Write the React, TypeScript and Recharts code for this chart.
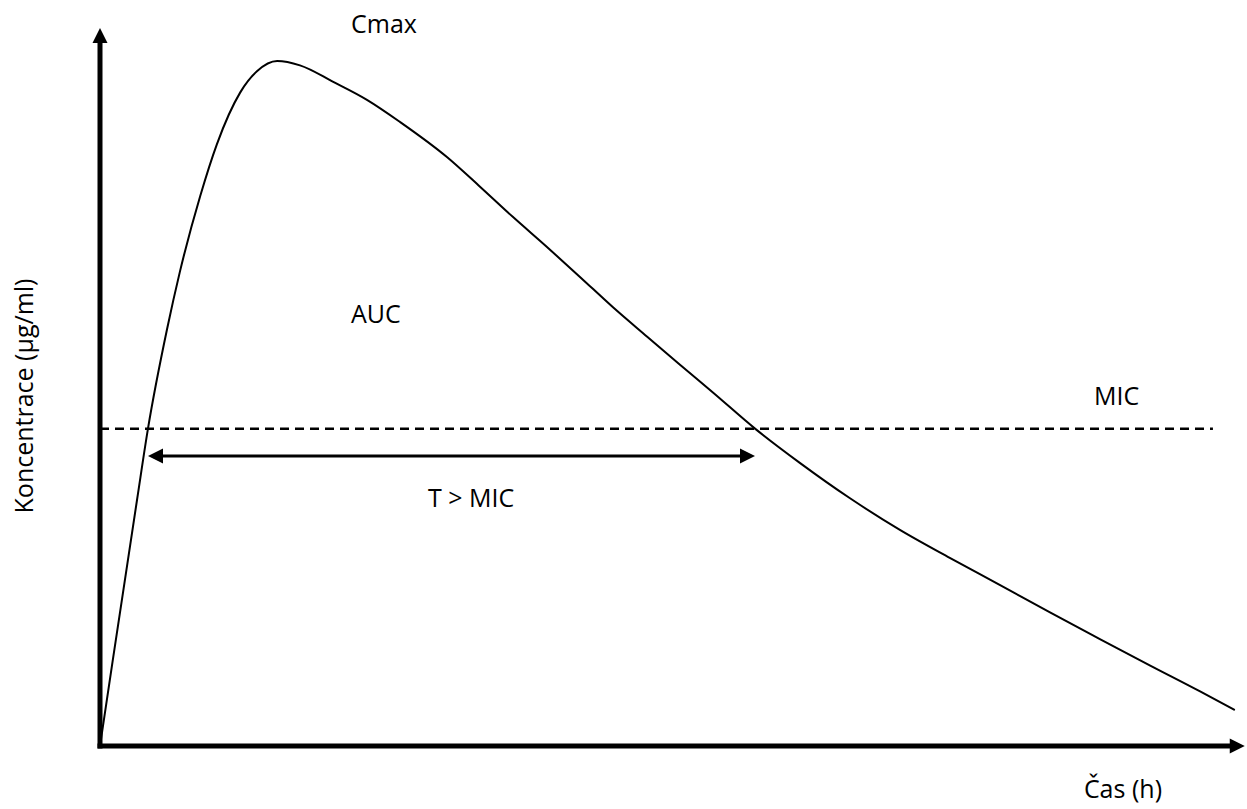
import { LineChart, Line, XAxis, YAxis, ReferenceLine } from 'recharts';

// čas (h) a koncentrace (µg/ml)
const time = [
  0, 0.27, 0.78, 1.01, 1.41, 1.68, 2.11, 2.46, 2.95, 3.31, 3.73, 4.21, 4.91, 5.62, 6.32, 7.31, 8.0,
  8.69, 9.41, 10.11, 10.8, 11.52, 12.21, 12.91, 13.79, 14.74, 15.79, 16.84, 17.89, 18.95, 20.0, 21.05,
  22.11, 23.16, 23.89,
];
const concentration = [
  0, 12.0, 34.3, 44.2, 58.0, 66.0, 76.6, 83.8, 91.0, 94.0, 95.4, 94.8, 92.5, 90.0, 86.9, 82.0, 77.9,
  73.7, 69.5, 65.3, 61.1, 57.0, 53.1, 49.2, 44.2, 39.4, 34.5, 30.1, 26.2, 22.4, 18.6, 14.9, 11.2, 7.6,
  5.0,
];
const MIC = 44.2;
const micEnd = 23.43;
const tAboveMic = [1.01, 13.79];
const tArrowLevel = 40.4;
const axisEnd = { x: 24.1, y: 100 };

const data = time.map((t, i) => ({ t, c: concentration[i] }));

const FONT = '"Open Sans", "Noto Sans", sans-serif';

const arrowShape = (width: number, both: boolean, extendStart = 0) => (props: any) => {
  const { x1, y1, x2, y2 } = props;
  const dx = x2 - x1;
  const dy = y2 - y1;
  const len = Math.sqrt(dx * dx + dy * dy) || 1;
  const ux = dx / len;
  const uy = dy / len;
  const h = 15;
  const w = 7.5;
  const head = (tx: number, ty: number, sx: number, sy: number) => {
    const bx = tx - sx * h;
    const by = ty - sy * h;
    return `${tx},${ty} ${bx - sy * w},${by + sx * w} ${bx + sy * w},${by - sx * w}`;
  };
  const sx0 = both ? x1 + ux * (h - 1) : x1 - ux * extendStart;
  const sy0 = both ? y1 + uy * (h - 1) : y1 - uy * extendStart;
  return (
    <g>
      <line x1={sx0} y1={sy0} x2={x2 - ux * (h - 1)} y2={y2 - uy * (h - 1)} stroke="#000" strokeWidth={width} />
      <polygon points={head(x2, y2, ux, uy)} fill="#000" />
      {both && <polygon points={head(x1, y1, -ux, -uy)} fill="#000" />}
    </g>
  );
};

const App = () => {
  return (
    <div style={{ position: 'absolute', left: 0, top: 0, background: '#fff' }}>
      <LineChart
        width={1247}
        height={809}
        data={data}
        margin={{ top: 28, right: 7, bottom: 63, left: 100 }}
      >
        <XAxis dataKey="t" type="number" domain={[0, 24]} hide />
        <YAxis type="number" domain={[0, 100]} hide />
        <ReferenceLine
          segment={[{ x: 0, y: MIC }, { x: micEnd, y: MIC }]}
          stroke="#000"
          strokeWidth={2.5}
          strokeDasharray="9 6"
          ifOverflow="visible"
        />
        <Line
          type="monotone"
          dataKey="c"
          stroke="#000"
          strokeWidth={2}
          dot={false}
          activeDot={false}
          isAnimationActive={false}
        />
        <ReferenceLine
          segment={[{ x: 0, y: 0 }, { x: 0, y: axisEnd.y }]}
          ifOverflow="visible"
          shape={arrowShape(5, false, 2.5)}
        />
        <ReferenceLine
          segment={[{ x: 0, y: 0 }, { x: axisEnd.x, y: 0 }]}
          ifOverflow="visible"
          shape={arrowShape(5, false, 2.5)}
        />
        <ReferenceLine
          segment={[{ x: tAboveMic[0], y: tArrowLevel }, { x: tAboveMic[1], y: tArrowLevel }]}
          ifOverflow="visible"
          shape={arrowShape(3, true)}
        />
        <text x={351} y={33} fontFamily={FONT} fontSize={25} fill="#000">Cmax</text>
        <text x={351} y={323} fontFamily={FONT} fontSize={25} fill="#000">AUC</text>
        <text x={428} y={507} fontFamily={FONT} fontSize={25} fill="#000">T &gt; MIC</text>
        <text x={1094} y={405} fontFamily={FONT} fontSize={25} fill="#000">MIC</text>
        <text x={1162} y={798} fontFamily={FONT} fontSize={25} fill="#000" textAnchor="end">Čas (h)</text>
        <text
          x={33}
          y={396}
          fontFamily={FONT}
          fontSize={25}
          fill="#000"
          textAnchor="middle"
          transform="rotate(-90, 33, 396)"
        >
          Koncentrace (µg/ml)
        </text>
      </LineChart>
    </div>
  );
};

export default App;
